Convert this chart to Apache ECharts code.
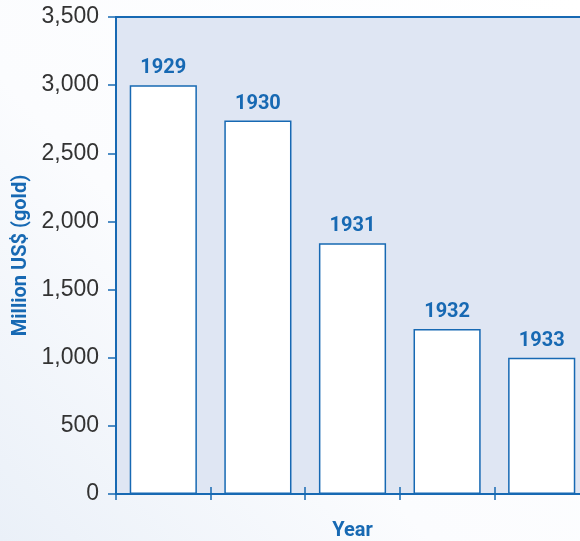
<!DOCTYPE html>
<html>
<head>
<meta charset="utf-8">
<script src="https://cdn.jsdelivr.net/npm/echarts@6/dist/echarts.min.js"></script>
<style>
  html, body { margin: 0; padding: 0; }
  #chart { width: 580px; height: 541px; }
</style>
</head>
<body>
<div id="chart"></div>
<script>
// 数据
const years = ['1929', '1930', '1931', '1932', '1933']
const values = [3000, 2740, 1840, 1210, 1000]
const yTicks = [0, 500, 1000, 1500, 2000, 2500, 3000, 3500]

const blue = '#1769b3'
const myChart = echarts.init(document.getElementById('chart'))

const option = {
  backgroundColor: new echarts.graphic.LinearGradient(1, 0, 0, 1, [
    { offset: 0, color: '#ffffff' },
    { offset: 0.6, color: '#fbfcfe' },
    { offset: 1, color: '#eaf0f8' },
  ]),
  animation: false,
  grid: {
    left: 116,
    right: -9,
    top: 17,
    bottom: 47,
    outerBoundsMode: 'none',
    containLabel: false,
    show: true,
    backgroundColor: '#dfe6f3',
    borderWidth: 0,
  },
  xAxis: [
    {
      type: 'category',
      data: years,
      position: 'bottom',
      name: 'Year',
      nameLocation: 'middle',
      nameGap: 27,
      nameTextStyle: {
        color: blue,
        fontSize: 20,
        fontWeight: 'bold',
        fontFamily: 'Roboto, sans-serif',
      },
      axisLine: { lineStyle: { color: blue, width: 2 } },
      axisTick: { show: true, length: 6, lineStyle: { color: blue, width: 1.5 } },
      axisLabel: { show: false },
    },
    {
      type: 'category',
      data: years,
      position: 'bottom',
      axisLine: { show: false },
      axisTick: { show: true, inside: true, length: 7, lineStyle: { color: blue, width: 1.5 } },
      axisLabel: { show: false },
    },
    {
      type: 'category',
      data: years,
      position: 'top',
      axisLine: { lineStyle: { color: blue, width: 2 } },
      axisTick: { show: false },
      axisLabel: { show: false },
    },
  ],
  yAxis: {
    type: 'value',
    min: yTicks[0],
    max: yTicks[yTicks.length - 1],
    interval: 500,
    name: 'Million US$ (gold)',
    nameLocation: 'middle',
    nameGap: 85,
    nameTextStyle: {
      color: blue,
      fontSize: 20,
      fontWeight: 'bold',
      fontFamily: 'Roboto, sans-serif',
    },
    axisLine: { show: true, lineStyle: { color: blue, width: 2 } },
    axisTick: { show: true, length: 8, lineStyle: { color: blue, width: 1.5 } },
    splitLine: { show: false },
    axisLabel: {
      margin: 17,
      color: '#333333',
      fontSize: 23,
      fontFamily: 'Liberation Sans, sans-serif',
      formatter: (v) => v.toLocaleString('en-US'),
    },
  },
  series: [
    {
      type: 'bar',
      data: values,
      barWidth: '71%',
      itemStyle: {
        color: '#ffffff',
        borderColor: blue,
        borderWidth: 1.5,
      },
      label: {
        show: true,
        position: 'top',
        distance: 7,
        formatter: (p) => years[p.dataIndex],
        color: blue,
        fontSize: 20,
        fontWeight: 'bold',
        fontFamily: 'Roboto, sans-serif',
      },
    },
  ],
}

myChart.setOption(option)
</script>
</body>
</html>
